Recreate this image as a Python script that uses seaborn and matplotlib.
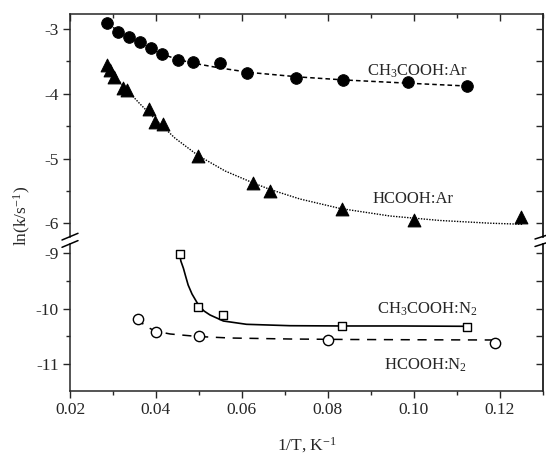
import numpy as np
import pandas as pd
import matplotlib
matplotlib.use("Agg")
import matplotlib.pyplot as plt
from matplotlib.lines import Line2D
from matplotlib.ticker import MultipleLocator, FormatStrFormatter
import seaborn as sns

# ---------------- data ----------------
# CH3COOH:Ar (filled circles)
ch3_ar_x = [0.0287, 0.0312, 0.0337, 0.0363, 0.0388, 0.0414, 0.0451, 0.0487,
            0.0549, 0.0613, 0.0725, 0.0836, 0.0987, 0.1125]
ch3_ar_y = [-2.90, -3.04, -3.13, -3.205, -3.30, -3.39, -3.48, -3.51,
            -3.52, -3.68, -3.76, -3.79, -3.82, -3.875]
ch3_ar_fit_x = [0.0286, 0.0312, 0.0340, 0.0363, 0.0386, 0.0414, 0.0451, 0.0491,
                0.0549, 0.0619, 0.0735, 0.0840, 0.0992, 0.1124]
ch3_ar_fit_y = [-2.907, -3.031, -3.139, -3.224, -3.301, -3.386, -3.471, -3.532,
                -3.602, -3.671, -3.741, -3.787, -3.838, -3.880]

# HCOOH:Ar (filled triangles)
hc_ar_x = [0.0285, 0.0293, 0.0302, 0.0323, 0.0333, 0.0385, 0.0398, 0.0417,
           0.0498, 0.0625, 0.0666, 0.0833, 0.1001, 0.1249]
hc_ar_y = [-3.556, -3.63, -3.736, -3.906, -3.94, -4.235, -4.43, -4.466,
           -4.967, -5.372, -5.496, -5.773, -5.948, -5.906]
hc_ar_fit_x = [0.0285, 0.0305, 0.0328, 0.0363, 0.0398, 0.0444, 0.0498, 0.0561,
               0.0624, 0.0666, 0.0735, 0.0829, 0.0945, 0.1061, 0.1178, 0.1255]
hc_ar_fit_y = [-3.540, -3.725, -3.910, -4.157, -4.389, -4.682, -4.952, -5.191,
               -5.369, -5.477, -5.623, -5.770, -5.886, -5.955, -5.997, -6.014]

# CH3COOH:N2 (open squares)
ch3_n2_x = [0.0455, 0.0497, 0.0556, 0.0833, 0.1124]
ch3_n2_y = [-9.01, -9.975, -10.11, -10.31, -10.325]
ch3_n2_fit_x = [0.0455, 0.0458, 0.0464, 0.0469, 0.0475, 0.0484, 0.0499, 0.0512,
                0.0526, 0.0557, 0.0611, 0.0712, 0.0833, 0.0968, 0.1124]
ch3_n2_fit_y = [-8.996, -9.136, -9.268, -9.408, -9.571, -9.734, -9.933, -10.042,
                -10.114, -10.223, -10.283, -10.308, -10.313, -10.313, -10.319]

# HCOOH:N2 (open circles)
hc_n2_x = [0.0359, 0.0400, 0.0500, 0.0800, 0.1190]
hc_n2_y = [-10.18, -10.43, -10.49, -10.567, -10.627]
hc_n2_fit_x = [0.0355, 0.0375, 0.0398, 0.0433, 0.0498, 0.0573, 0.0712, 0.0852,
               0.1015, 0.1189]
hc_n2_fit_y = [-10.168, -10.313, -10.404, -10.458, -10.504, -10.531, -10.549,
               -10.558, -10.563, -10.567]

labels = ["CH$_3$COOH:Ar", "HCOOH:Ar", "CH$_3$COOH:N$_2$", "HCOOH:N$_2$"]
label_pos = [(0.0891, -3.725), (0.0905, -5.681), (0.0915, -10.083), (0.0931, -11.11)]

# ---------------- style ----------------
sns.set_style("ticks")
plt.rcParams["font.family"] = ["Liberation Serif", "DejaVu Serif"]
plt.rcParams["mathtext.fontset"] = "custom"
plt.rcParams["mathtext.rm"] = "Liberation Serif"
plt.rcParams["mathtext.it"] = "Liberation Serif:italic"
plt.rcParams["axes.unicode_minus"] = False
FS = 12.5

W, H = 546, 454
fig = plt.figure(figsize=(W / 100, H / 100), dpi=100)

L, R = 70, 543
top_t, top_b = 14, 237
bot_t, bot_b = 244, 391
ax_top = fig.add_axes([L / W, 1 - top_b / H, (R - L) / W, (top_b - top_t) / H])
ax_bot = fig.add_axes([L / W, 1 - bot_b / H, (R - L) / W, (bot_b - bot_t) / H])

def df(x, y):
    return pd.DataFrame({"x": x, "y": y})

# top panel
sns.lineplot(data=df(ch3_ar_fit_x, ch3_ar_fit_y), x="x", y="y", ax=ax_top, sort=False,
             estimator=None, color="black", lw=1.1, linestyle=(0, (3, 2)))
sns.lineplot(data=df(hc_ar_fit_x, hc_ar_fit_y), x="x", y="y", ax=ax_top, sort=False,
             estimator=None, color="black", lw=1.0, linestyle=(0, (1, 1)))
sns.scatterplot(data=df(ch3_ar_x, ch3_ar_y), x="x", y="y", ax=ax_top, marker="o",
                s=70, color="black", edgecolor="black", zorder=5)
sns.scatterplot(data=df(hc_ar_x, hc_ar_y), x="x", y="y", ax=ax_top, marker="^",
                s=85, color="black", edgecolor="black", zorder=5)

# bottom panel
sns.lineplot(data=df(ch3_n2_fit_x, ch3_n2_fit_y), x="x", y="y", ax=ax_bot, sort=False,
             estimator=None, color="black", lw=1.2)
sns.lineplot(data=df(hc_n2_fit_x, hc_n2_fit_y), x="x", y="y", ax=ax_bot, sort=False,
             estimator=None, color="black", lw=1.1, linestyle=(0, (6, 5)))
sns.scatterplot(data=df(ch3_n2_x, ch3_n2_y), x="x", y="y", ax=ax_bot, marker="s",
                s=40, facecolor="white", edgecolor="black", linewidth=1.0, zorder=5)
sns.scatterplot(data=df(hc_n2_x, hc_n2_y), x="x", y="y", ax=ax_bot, marker="o",
                s=55, facecolor="white", edgecolor="black", linewidth=1.0, zorder=5)

ax_top.text(*label_pos[0], labels[0], fontsize=FS - 0.5, ha="left", va="baseline")
ax_top.text(*label_pos[1], labels[1], fontsize=FS - 0.5, ha="left", va="baseline")
ax_bot.text(*label_pos[2], labels[2], fontsize=FS - 0.5, ha="left", va="baseline")
ax_bot.text(*label_pos[3], labels[3], fontsize=FS - 0.5, ha="left", va="baseline")

# limits
for ax in (ax_top, ax_bot):
    ax.set_xlim(0.02, 0.1301)
    ax.set_xlabel("")
    ax.set_ylabel("")
ax_top.set_ylim(-6.2099, -2.7685)
ax_bot.set_ylim(-11.491, -8.828)

for ax in (ax_top, ax_bot):
    ax.xaxis.set_major_locator(MultipleLocator(0.02))
    ax.xaxis.set_minor_locator(MultipleLocator(0.01))
    ax.yaxis.set_major_locator(MultipleLocator(1))
    ax.yaxis.set_minor_locator(MultipleLocator(0.5))
    ax.yaxis.set_major_formatter(FormatStrFormatter("%d"))
    ax.xaxis.set_major_formatter(FormatStrFormatter("%.2f"))
    ax.tick_params(which="both", direction="out", width=1.0, labelsize=FS,
                   top=False, right=False, pad=3)
    ax.tick_params(which="major", length=5)
    ax.tick_params(which="minor", length=3)
    for s in ax.spines.values():
        s.set_linewidth(1.1)
    # right mirror ticks, pointing inward
    sec = ax.secondary_yaxis("right")
    sec.yaxis.set_major_locator(MultipleLocator(1))
    sec.yaxis.set_minor_locator(MultipleLocator(0.5))
    sec.tick_params(which="both", direction="in", width=1.0, labelright=False)
    sec.tick_params(which="major", length=5)
    sec.tick_params(which="minor", length=5)
    sec.spines["right"].set_linewidth(1.1)

ax_top.spines["bottom"].set_visible(False)
ax_top.tick_params(which="both", bottom=False, labelbottom=False)
ax_top.spines["top"].set_visible(False)
sec_t = ax_top.secondary_xaxis("top")
sec_t.xaxis.set_major_locator(MultipleLocator(0.02))
sec_t.xaxis.set_minor_locator(MultipleLocator(0.01))
sec_t.tick_params(which="both", direction="in", width=1.0, labeltop=False)
sec_t.tick_params(which="major", length=5)
sec_t.tick_params(which="minor", length=3)
sec_t.spines["top"].set_linewidth(1.1)

ax_bot.spines["top"].set_visible(False)

# axis labels
fig.text(22 / W, 1 - 216 / H, "ln(k/s$^{-1}$)", rotation=90, fontsize=FS,
         ha="center", va="center")
fig.text(307 / W, 1 - 445 / H, "1/T, K$^{-1}$", fontsize=FS, ha="center", va="center")

# break marks
def brk(x0, y0, x1, y1):
    fig.add_artist(Line2D([x0 / W, x1 / W], [1 - y0 / H, 1 - y1 / H],
                          transform=fig.transFigure, color="black", lw=1.1,
                          clip_on=False))

brk(62, 240, 78, 233.3)
brk(62, 247.3, 78, 240.6)
brk(535, 239, 549, 234.5)
brk(535, 246.5, 549, 242)

fig.savefig("out.png", dpi=100)
